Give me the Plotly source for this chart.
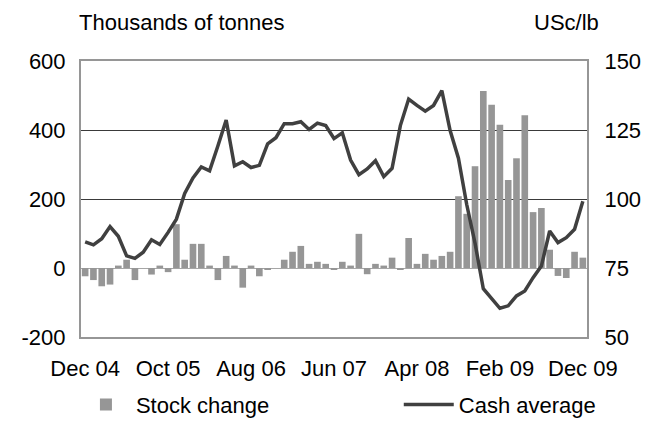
import plotly.graph_objects as go
import pandas as pd

# ---- data ----
months = [d.strftime("%b %y") for d in pd.date_range("2004-12-01", "2009-12-01", freq="MS")]

stock_change = [-24, -35, -53, -48, 7, 24, -35, 0, -19, 7, -12,
                127, 24, 70, 70, 7, -35, 35, 7, -57, 7,
                -24, -5, 0, 24, 47, 64, 12, 18, 12, -5,
                18, 7, 99, -18, 12, 7, 30, -5, 87, 12,
                41, 24, 35, 47, 208, 157, 295, 513, 473, 415,
                255, 318, 443, 162, 174, 53, -23, -29, 47, 30]

cash_average = [84.5, 83.4, 85.6, 90.0, 86.5, 79.4, 78.5, 80.7, 85.2, 83.5, 87.9,
                92.7, 102.0, 107.6, 111.6, 110.2, 119.2, 128.6, 112.0, 113.5, 111.4,
                112.2, 120.0, 122.2, 127.3, 127.3, 128.0, 125.2, 127.5, 126.6, 121.9,
                124.0, 114.1, 108.8, 110.9, 113.9, 108.1, 111.1, 126.6, 136.2, 133.9,
                131.8, 133.9, 139.3, 124.8, 114.8, 98.0, 84.0, 67.5, 64.0, 60.4,
                61.3, 64.9, 66.7, 71.5, 75.7, 88.4, 84.2, 86.0, 89.0, 99.2]

tick_labels = ["Dec 04", "Oct 05", "Aug 06", "Jun 07", "Apr 08", "Feb 09", "Dec 09"]
left_ticks = [-200, 0, 200, 400, 600]
left_tick_text = ["-200", "0", "200", "400", "600"]
right_ticks = [50, 75, 100, 125, 150]
series_names = ["Stock change", "Cash average"]
axis_titles = ["Thousands of tonnes", "USc/lb"]

FONT = "Liberation Sans, Arial, sans-serif"
FS = 22

fig = go.Figure()
fig.add_trace(go.Bar(x=months, y=stock_change, name=series_names[0],
                     marker=dict(color="#969696", line=dict(width=0)),
                     yaxis="y", legend="legend"))
fig.add_trace(go.Scatter(x=months, y=cash_average, name=series_names[1], mode="lines",
                         line=dict(color="#404040", width=3.5),
                         yaxis="y2", legend="legend2"))

legend_common = dict(orientation="h", yanchor="middle", y=-0.245, xanchor="left",
                     itemwidth=50, font=dict(size=FS), bgcolor="rgba(0,0,0,0)",
                     borderwidth=0)

fig.update_layout(
    template="none",
    width=654, height=421,
    margin=dict(l=81, r=67, t=61, b=84, autoexpand=False),
    paper_bgcolor="white", plot_bgcolor="white",
    font=dict(family=FONT, size=FS, color="black"),
    bargap=0.2,
    showlegend=True,
    legend=dict(x=-0.01, **legend_common),
    legend2=dict(x=0.628, **legend_common),
    xaxis=dict(type="category", categoryorder="array", categoryarray=months,
               tickvals=tick_labels, ticktext=tick_labels, automargin=False,
               showgrid=False, showline=True, mirror=True, linecolor="#969696", linewidth=2,
               ticks="outside", ticklen=11, tickcolor="rgba(0,0,0,0)"),
    yaxis=dict(range=[-200, 600], tickvals=left_ticks, ticktext=left_tick_text,
               automargin=False,
               showgrid=True, gridcolor="#3a3a3a", gridwidth=1,
               zeroline=True, zerolinecolor="#a6a6a6", zerolinewidth=1,
               showline=True, mirror=True, linecolor="#969696", linewidth=2,
               ticks="outside", ticklen=9, tickcolor="rgba(0,0,0,0)"),
    yaxis2=dict(range=[50, 150], tickvals=right_ticks, overlaying="y", side="right",
                automargin=False, showgrid=False, zeroline=False, showline=False,
                ticks="outside", ticklen=12, tickcolor="rgba(0,0,0,0)"),
    annotations=[
        dict(text=axis_titles[0], xref="paper", yref="paper", x=-0.008, y=1.138,
             xanchor="left", yanchor="middle", showarrow=False, font=dict(size=FS)),
        dict(text=axis_titles[1], xref="paper", yref="paper", x=1.028, y=1.138,
             xanchor="right", yanchor="middle", showarrow=False, font=dict(size=FS)),
    ],
)

fig.write_html("out.html", config={"displayModeBar": False},
               post_script="document.body.style.margin='0';")
